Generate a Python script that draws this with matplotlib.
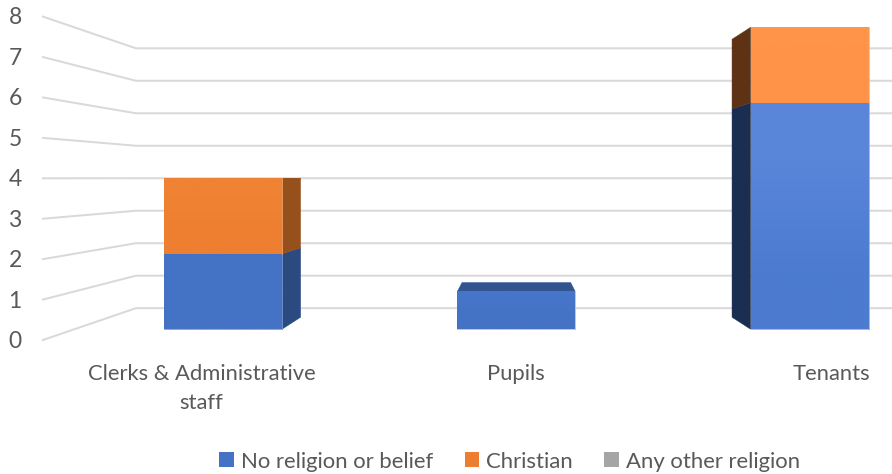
import numpy as np
import matplotlib
matplotlib.use("Agg")
import matplotlib.pyplot as plt
from matplotlib.colors import to_rgb
from matplotlib.patches import Patch, Polygon

plt.rcParams['font.family'] = ['Lato', 'DejaVu Sans']

# ---- data ----
categories = ["Clerks & Administrative\nstaff", "Pupils", "Tenants"]
no_religion = [2, 1, 6]
christian = [2, 0, 2]
other_religion = [0, 0, 0]
value_ticks = [0, 1, 2, 3, 4, 5, 6, 7, 8]
series_names = ["No religion or belief", "Christian", "Any other religion"]

# ---- styles ----
W, H = 892, 474
TEXT = "#595959"
GRID = "#d9d9d9"
LEGEND_COLORS = ["#4472C4", "#ED7D31", "#A5A5A5"]
# per category, per series: front top colour, front bottom colour, side/top colour, edge
STYLE = [
    [("#4472C4", "#4472C4", "#2A4A80", "#7C9ADB"), ("#F08234", "#EE7F31", "#96501C", "#F4A26A")],
    [("#4675C9", "#4472C4", "#33558F", "#A9C0EA"), ("#F08234", "#EE7F31", "#96501C", "#F4A26A")],
    [("#5A86DA", "#4C7BCF", "#1A2E52", "#8FB0E8"), ("#FF9549", "#FF9348", "#5E3214", "#FFB380")],
]

# perspective set-up
VX, VY = 516.5, 178.0        # vanishing point
Y0, UNIT = 340.3, 40.5       # front of the side wall
D_BAR_FRONT, D_BAR_BACK, D_WALL = 0.068, 0.142, 0.198
CAT_X0, CAT_STEP, BAR_W = 201.6, 314.7, 126.6


def project(x, value, depth):
    """Project a plot position (x, value, depth) to figure coordinates."""
    y = Y0 - UNIT * value
    s = 1 - depth
    return VX + (x - VX) * s, VY + (y - VY) * s


fig = plt.figure(figsize=(W / 100, H / 100), dpi=100)
ax = fig.add_axes([0, 0, 1, 1])

# gridlines: side wall then back wall
for v in value_ticks:
    x0, y0 = project(42, v, 0)
    x1, y1 = project(42, v, D_WALL)
    ax.plot([x0, x1, W], [y0, y1, y1], color=GRID, lw=1.45, zorder=1,
            solid_joinstyle="round", solid_capstyle="butt")
    ax.text(15, y0 + 1.5, str(v), color=TEXT, fontsize=16.5, ha="center", va="center")


def face(points, color, z):
    ax.add_patch(Polygon(points, closed=True, facecolor=color, edgecolor=color, lw=0.3, zorder=z))


# stacked bars
stacks = [no_religion, christian, other_religion]
for i, name in enumerate(categories):
    cx = CAT_X0 + i * CAT_STEP
    left, right = cx - BAR_W / 2, cx + BAR_W / 2
    base = 0
    top_value = sum(s[i] for s in stacks)
    for k, values in enumerate(stacks):
        val = values[i]
        if val == 0:
            continue
        c_top, c_bot, c_side, c_edge = STYLE[i][k]
        lo, hi = base, base + val
        fl = project(left, lo, D_BAR_FRONT)
        fh = project(right, hi, D_BAR_FRONT)
        # side face
        side_x = right if fh[0] < VX - 1 else (left if fl[0] > VX + 1 else None)
        if side_x is not None:
            face([project(side_x, lo, D_BAR_FRONT), project(side_x, hi, D_BAR_FRONT),
                  project(side_x, hi, D_BAR_BACK), project(side_x, lo, D_BAR_BACK)], c_side, 3)
        # top face
        if hi == top_value and fh[1] > VY:
            face([project(left, hi, D_BAR_FRONT), project(right, hi, D_BAR_FRONT),
                  project(right, hi, D_BAR_BACK), project(left, hi, D_BAR_BACK)], c_side, 3)
        # front face with its slight vertical shading
        grad = np.array([[to_rgb(c_top)], [to_rgb(c_bot)]])
        ax.imshow(grad, extent=(fl[0], fh[0], fl[1], fh[1]), aspect="auto",
                  interpolation="bilinear", zorder=4)
        if lo == 0:
            ax.plot([fl[0], fh[0]], [fl[1], fl[1]], color=c_edge, lw=0.6, zorder=5)
        ax.plot([fh[0], fh[0]], [fl[1], fh[1]], color=c_edge, lw=0.6, zorder=5)
        base = hi
    ax.text(cx, 363.5, name, color=TEXT, fontsize=15.85, ha="center", va="top", linespacing=1.6)

ax.set_xlim(0, W)
ax.set_ylim(H, 0)
ax.axis("off")

handles = [Patch(facecolor=c, edgecolor="none") for c in LEGEND_COLORS]
ax.legend(handles, series_names, loc="center", bbox_to_anchor=(509.5 / W, 1 - 461.5 / H),
          ncol=3, frameon=False, fontsize=15.9, labelcolor=TEXT, handlelength=0.66,
          handleheight=0.66, handletextpad=0.3, columnspacing=1.44, borderpad=0, borderaxespad=0)

fig.savefig("out.png", dpi=100)
